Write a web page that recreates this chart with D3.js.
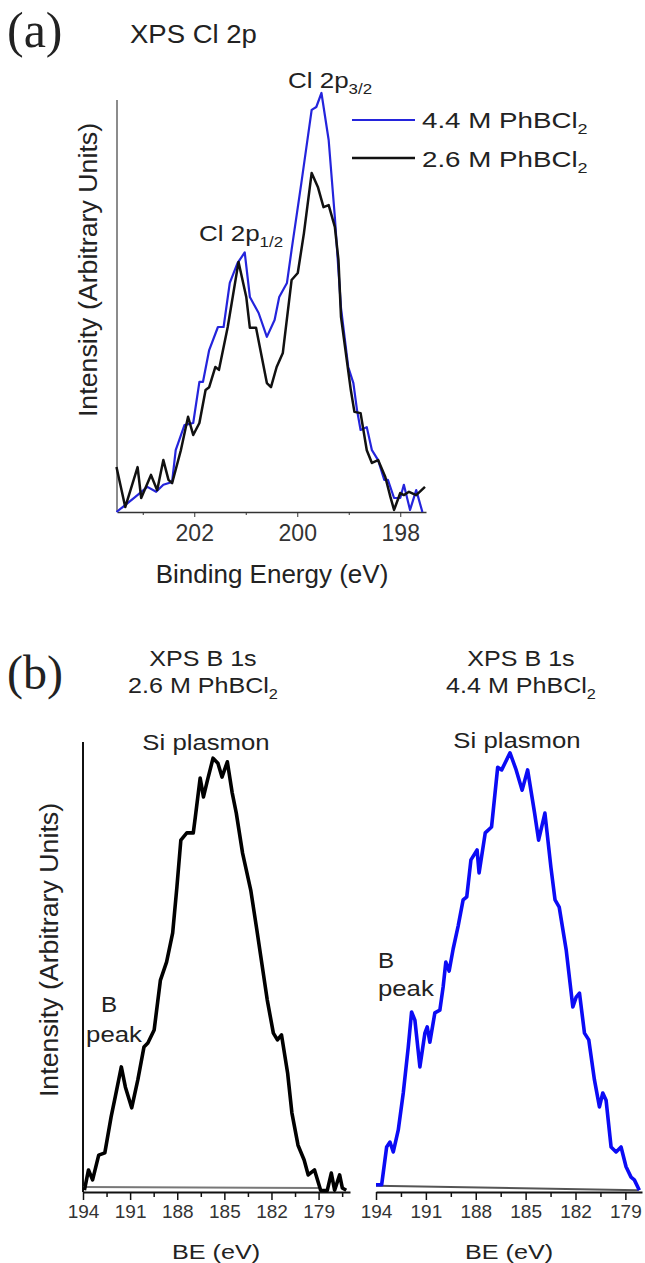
<!DOCTYPE html>
<meta charset="utf-8">
<script src="https://d3js.org/d3.v7.min.js"></script>
<style>
body { margin: 0; background: #fff; }
svg { font-family: "Liberation Sans", Arial, sans-serif; fill: #222; }
.axis path, .axis line { stroke: #333; }
.axis text { fill: #333; font-family: "Liberation Sans", Arial, sans-serif; }
</style>
<body></body>
<script>

// ---- data: panel (a) XPS Cl 2p ----
var clE44 = [203.51,203.39,203.15,202.91,202.74,202.60,202.43,202.36,202.19,202.02,201.90,201.83,201.71,201.54,201.43,201.31,201.16,201.02,200.92,200.75,200.59,200.44,200.35,200.20,200.11,199.92,199.72,199.63,199.53,199.39,199.27,199.20,199.15,199.01,198.91,198.84,198.77,198.65,198.55,198.43,198.31,198.24,198.12,198.00,197.93,197.81,197.69,197.57];
var clI44 = [0,1.2,3.6,6.1,4.9,6.6,7.3,15.0,21.1,21.6,31.6,31.6,39.3,44.9,44.9,55.6,60.4,63.0,52.2,48.3,42.5,46.6,52.2,55.6,63.6,79.9,97.6,98.3,101.7,90.3,71.6,58.7,49.5,35.2,31.3,24.8,19.9,20.6,15.0,12.6,7.8,7.8,3.4,3.4,6.6,0.5,5.3,0];

var clE26 = [203.51,203.34,203.10,203.03,202.84,202.72,202.60,202.50,202.43,202.26,202.12,202.02,201.90,201.78,201.71,201.59,201.52,201.35,201.14,200.99,200.92,200.80,200.59,200.51,200.40,200.28,200.11,199.99,199.87,199.72,199.60,199.49,199.39,199.27,199.20,199.15,198.96,198.89,198.77,198.65,198.55,198.43,198.29,198.19,198.12,198.00,197.93,197.83,197.69,197.52];
var clI26 = [10.9,1.2,10.9,3.4,9.0,5.3,12.6,7.8,7.0,15.0,23.1,18.7,21.6,29.6,30.3,35.2,34.5,44.9,60.7,52.2,44.7,44.7,31.3,30.3,35.2,38.6,56.3,58.0,67.7,82.3,78.9,74.0,74.5,69.2,61.2,47.3,29.6,24.3,24.0,15.0,11.9,12.6,8.5,3.6,0.5,4.6,4.1,4.9,4.1,6.1];

var clMajorTicks = [202, 200, 198];
var clMinorTicks = [203, 201, 199];

// ---- data: panel (b) XPS B 1s ----
var bE26 = [193.91,193.65,193.39,193.00,192.61,192.21,191.95,191.56,191.30,190.90,190.51,190.12,189.87,189.47,189.07,188.68,188.29,188.02,187.77,187.39,186.98,186.85,186.54,186.33,186.07,185.72,185.41,185.15,184.81,184.50,184.24,183.84,183.32,182.93,182.27,181.88,181.62,181.36,180.97,180.70,180.31,179.92,179.66,179.26,178.87,178.45,178.19,177.98,177.66,177.49,177.24];
var bI26 = [0.4,4.9,2.7,8.2,8.7,16.7,21.1,27.8,23.3,18.7,24.9,32.2,33.1,36.0,47.1,51.1,57.6,67.8,78.2,79.8,79.8,83.3,92.0,87.8,91.6,96.4,95.3,92.2,95.6,88.7,84.2,75.3,67.1,58.2,42.7,35.3,33.8,34.9,26.4,17.6,10.4,7.1,3.8,4.9,0.4,0.3,4.2,0.4,3.8,0.9,0.4];

var bE44 = [194.00,193.66,193.36,193.16,192.96,192.66,192.36,192.06,191.86,191.66,191.36,191.06,190.92,190.76,190.46,190.16,189.96,189.80,189.60,189.36,189.06,188.76,188.54,188.29,187.92,187.80,187.43,187.05,186.68,186.44,185.94,185.57,185.21,184.88,184.46,184.22,183.84,183.48,183.23,182.98,182.56,182.16,181.96,181.76,181.46,181.20,180.86,180.56,180.36,180.16,179.86,179.56,179.26,178.96,178.66,178.46,178.16];
var bI44 = [1.6,1.6,10.0,11.1,8.9,13.8,22.0,32.2,40.0,38.2,27.8,35.3,36.7,33.3,39.8,40.4,45.6,51.1,49.1,54.0,59.1,64.9,65.6,73.8,76.0,70.9,79.8,81.1,94.4,93.8,97.6,93.8,89.3,93.8,84.2,78.2,84.2,72.2,64.9,63.3,53.8,41.1,43.3,44.2,35.3,33.8,24.9,18.9,22.0,20.4,10.0,8.9,10.0,5.6,3.3,2.7,0.4];

// fitted backgrounds under the B 1s spectra
var bgE26 = [194, 179];
var bgI26 = [1.1, 0.9];
var bgE44 = [194, 178.2];
var bgI44 = [1.4, 0.4];

var bMajorTicks = [194, 191, 188, 185, 182, 179];
var bMinorTicks = [192.5, 189.5, 186.5, 183.5, 180.5, 177.5];

var blueA = '#2424dc';
var blueB = '#0b0bf5';

var svg = d3.select('body').append('svg')
    .attr('width', 645)
    .attr('height', 1263);

// text helper: parts = [{t: 'text'}, {t: '2', sub: true}]
function label(x, y, size, anchor, sx, parts, rot, family) {
  var tr = 'translate(' + x + ',' + y + ')' + (rot ? ' rotate(' + rot + ')' : '') + ' scale(' + sx + ',1)';
  var t = svg.append('text')
    .attr('transform', tr)
    .attr('text-anchor', anchor)
    .style('font-size', size + 'px')
    .style('fill', '#222');
  if (family) t.style('font-family', family);
  parts.forEach(function(p) {
    var ts = t.append('tspan').text(p.t);
    if (p.sub) ts.style('font-size', (size * 0.65) + 'px').attr('dy', size * 0.25);
  });
  return t;
}

// ================= panel (a) =================
var xA = d3.scaleLinear().domain([203.5, 197.5]).range([117, 426]);
var yA = d3.scaleLinear().domain([0, 100]).range([512, 100]);

// y axis line only
svg.append('line')
  .attr('x1', xA(203.5)).attr('x2', xA(203.5))
  .attr('y1', yA(0)).attr('y2', yA(100))
  .style('stroke', '#666').style('stroke-width', 1.5);

svg.append('g')
  .attr('class', 'axis')
  .attr('transform', 'translate(0,' + yA(0) + ')')
  .call(d3.axisBottom(xA).tickValues(clMinorTicks).tickSize(3).tickFormat('').tickSizeOuter(0))
  .call(g => g.select('.domain').style('stroke-width', 1.5));

svg.append('g')
  .attr('class', 'axis')
  .attr('transform', 'translate(0,' + yA(0) + ')')
  .call(d3.axisBottom(xA).tickValues(clMajorTicks).tickFormat(d3.format('d')).tickSize(5).tickSizeOuter(0).tickPadding(8))
  .call(g => g.select('.domain').remove())
  .call(g => g.selectAll('text').style('font-size', '23px'));

var lineA = d3.line().x(d => xA(d[0])).y(d => yA(d[1]));

svg.append('path')
  .datum(d3.zip(clE44, clI44))
  .attr('d', lineA)
  .style('fill', 'none').style('stroke', blueA).style('stroke-width', 2.2)
  .style('stroke-linejoin', 'round');

svg.append('path')
  .datum(d3.zip(clE26, clI26))
  .attr('d', lineA)
  .style('fill', 'none').style('stroke', '#111').style('stroke-width', 2.5)
  .style('stroke-linejoin', 'round');

// legend
svg.append('line').attr('x1', 352).attr('x2', 415).attr('y1', 120).attr('y2', 120)
  .style('stroke', blueA).style('stroke-width', 2.2);
svg.append('line').attr('x1', 352).attr('x2', 415).attr('y1', 158).attr('y2', 158)
  .style('stroke', '#111').style('stroke-width', 2.5);
label(422, 128, 22, 'start', 1.26, [{t: '4.4 M PhBCl'}, {t: '2', sub: true}]);
label(422, 167, 22, 'start', 1.26, [{t: '2.6 M PhBCl'}, {t: '2', sub: true}]);

label(7, 47, 50, 'start', 1, [{t: '(a)'}], 0, '"Liberation Serif", "Times New Roman", serif');
label(130, 43, 25, 'start', 1.1, [{t: 'XPS Cl 2p'}]);
label(288, 88, 22, 'start', 1.18, [{t: 'Cl 2p'}, {t: '3/2', sub: true}]);
label(199, 241, 22, 'start', 1.18, [{t: 'Cl 2p'}, {t: '1/2', sub: true}]);
label(272, 583, 25, 'middle', 1.04, [{t: 'Binding Energy (eV)'}]);
label(97, 270, 25, 'middle', 1.07, [{t: 'Intensity (Arbitrary Units)'}], -90);

// ================= panel (b) =================
var yB = d3.scaleLinear().domain([0, 100]).range([1192, 742]);
var xB1 = d3.scaleLinear().domain([194, 177]).range([83, 350]);
var xB2 = d3.scaleLinear().domain([194, 178]).range([376, 642]);

function bAxis(x) {
  var minor = bMinorTicks.filter(v => v >= x.domain()[1]);
  svg.append('g')
    .attr('class', 'axis')
    .attr('transform', 'translate(0,' + yB(0) + ')')
    .call(d3.axisBottom(x).tickValues(minor).tickSize(5).tickFormat('').tickSizeOuter(0))
    .call(g => g.select('.domain').style('stroke', '#111').style('stroke-width', 2))
    .call(g => g.selectAll('line').style('stroke', '#111').style('stroke-width', 1.5));
  svg.append('g')
    .attr('class', 'axis')
    .attr('transform', 'translate(0,' + yB(0) + ')')
    .call(d3.axisBottom(x).tickValues(bMajorTicks).tickFormat(d3.format('d')).tickSize(8).tickSizeOuter(0).tickPadding(5))
    .call(g => g.select('.domain').remove())
    .call(g => g.selectAll('line').style('stroke', '#111').style('stroke-width', 1.5))
    .call(g => g.selectAll('text').style('font-size', '19px'));
}

bAxis(xB1);
bAxis(xB2);

svg.append('line')
  .attr('x1', xB1(194)).attr('x2', xB1(194))
  .attr('y1', yB(0)).attr('y2', yB(100))
  .style('stroke', '#111').style('stroke-width', 2);

var lineB1 = d3.line().x(d => xB1(d[0])).y(d => yB(d[1]));
var lineB2 = d3.line().x(d => xB2(d[0])).y(d => yB(d[1]));

// backgrounds
svg.append('path').datum(d3.zip(bgE26, bgI26)).attr('d', lineB1)
  .style('fill', 'none').style('stroke', '#777').style('stroke-width', 2);
svg.append('path').datum(d3.zip(bgE44, bgI44)).attr('d', lineB2)
  .style('fill', 'none').style('stroke', '#555').style('stroke-width', 2);

svg.append('path').datum(d3.zip(bE26, bI26)).attr('d', lineB1)
  .style('fill', 'none').style('stroke', '#000').style('stroke-width', 3.6)
  .style('stroke-linejoin', 'round');
svg.append('path').datum(d3.zip(bE44, bI44)).attr('d', lineB2)
  .style('fill', 'none').style('stroke', blueB).style('stroke-width', 3.6)
  .style('stroke-linejoin', 'round');

label(7, 689, 48, 'start', 1, [{t: '(b)'}], 0, '"Liberation Serif", "Times New Roman", serif');

label(203, 666, 22, 'middle', 1.14, [{t: 'XPS B 1s'}]);
label(203, 693, 22, 'middle', 1.14, [{t: '2.6 M PhBCl'}, {t: '2', sub: true}]);
label(206, 750, 22, 'middle', 1.17, [{t: 'Si plasmon'}]);

label(521, 666, 22, 'middle', 1.14, [{t: 'XPS B 1s'}]);
label(521, 693, 22, 'middle', 1.14, [{t: '4.4 M PhBCl'}, {t: '2', sub: true}]);
label(517, 748, 22, 'middle', 1.17, [{t: 'Si plasmon'}]);

label(109, 1012, 22, 'middle', 1.1, [{t: 'B'}]);
label(114, 1042, 22, 'middle', 1.17, [{t: 'peak'}]);
label(378, 968, 22, 'start', 1.1, [{t: 'B'}]);
label(378, 996, 22, 'start', 1.17, [{t: 'peak'}]);

label(216, 1259, 21, 'middle', 1.2, [{t: 'BE (eV)'}]);
label(509, 1259, 21, 'middle', 1.2, [{t: 'BE (eV)'}]);
label(58, 950, 25, 'middle', 1.07, [{t: 'Intensity (Arbitrary Units)'}], -90);

</script>
